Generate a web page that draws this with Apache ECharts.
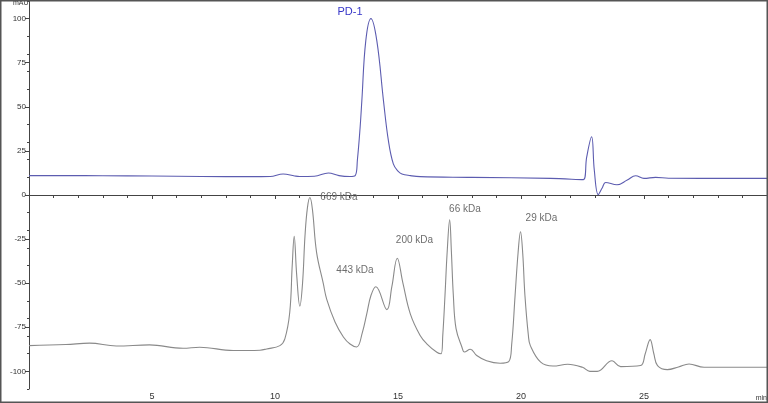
<!DOCTYPE html>
<html>
<head>
<meta charset="utf-8">
<script src="https://cdn.jsdelivr.net/npm/echarts@6/dist/echarts.min.js"></script>
<style>
html,body{margin:0;padding:0;background:#fff;}
#c{width:768px;height:403px;}
</style>
</head>
<body>
<div id="c"></div>
<script>
// PD-1 trace (blue): retention time (min) and absorbance (mAU)
const pd1Time  = [0, 1.5, 3, 5, 7, 9, 9.8, 10.33, 10.8, 11.0, 11.6, 12.17, 12.6, 13.05, 13.26, 13.35, 13.46, 13.53, 13.69, 13.9, 14.14, 14.41, 14.61, 14.81, 15.0, 15.16, 15.5, 15.9, 18, 21.2, 22.53, 22.67, 22.87, 22.98, 23.14, 23.3, 23.44, 23.9, 24.32, 24.66, 25.0, 25.47, 26, 30];
const pd1Value = [11.0, 11.0, 10.9, 10.8, 10.5, 10.4, 10.5, 11.9, 10.8, 10.5, 10.6, 12.5, 11.0, 10.5, 11.0, 20, 38.3, 53.4, 87.4, 100, 87.4, 53.4, 30.8, 17.6, 13.5, 11.9, 11.0, 10.4, 10.0, 9.4, 8.7, 21.5, 33, 14, 0.2, 4, 7.1, 5.8, 8.5, 10.9, 9.4, 10.0, 9.5, 9.4];

// Molecular weight standard trace (gray)
const stdTime  = [0, 1.5, 2.46, 3.55, 4.9, 6.26, 6.94, 8.3, 9.39, 9.66, 10.2, 10.4, 10.6, 10.7, 10.78, 10.88, 11.01, 11.12, 11.22, 11.32, 11.42, 11.52, 11.69, 11.96, 12.1, 12.44, 12.78, 13.05, 13.32, 13.55, 13.73, 13.9, 14.1, 14.55, 14.75, 14.97, 15.2, 15.5, 15.9, 16.17, 16.58, 16.75, 16.82, 16.91, 17.0, 17.1, 17.17, 17.25, 17.36, 17.6, 17.7, 17.94, 18.2, 18.6, 19.15, 19.5, 19.62, 19.76, 19.88, 19.98, 20.07, 20.16, 20.3, 20.38, 20.8, 21.3, 21.9, 22.5, 22.8, 23.1, 23.7, 24.05, 24.86, 25.05, 25.25, 25.4, 25.55, 25.95, 26.4, 26.83, 27.44, 30];
const stdValue = [-85.4, -84.8, -84.0, -85.6, -85.0, -86.9, -86.3, -88.2, -88.0, -87.3, -85.4, -81.6, -66.5, -40, -23.4, -45, -63, -50, -23, -7, -1.4, -8, -32.5, -50, -59, -72, -80.5, -84.5, -86.2, -78, -67.4, -57, -52, -65, -52, -35.9, -50, -67.4, -79.7, -84.4, -89.2, -90, -79.6, -57, -32, -14, -32, -57, -75.8, -86.3, -89, -87.5, -91, -94, -95.4, -94.5, -85, -56.9, -33, -20.8, -33, -57, -79.6, -85.4, -94.8, -97, -96, -97.7, -100, -100, -94, -97.3, -96.7, -90, -82, -90, -96.7, -99, -97.5, -95.8, -97.7, -97.7];

// Peak annotations
const pd1Label = {name: 'PD-1', t: 13.05, v: 103.6};
const stdLabels = ['669 kDa', '443 kDa', '200 kDa', '66 kDa', '29 kDa'];
const stdLabelT = [12.6, 13.25, 15.67, 17.72, 20.83];
const stdLabelV = [-1.3, -42.7, -25.7, -8.1, -13.2];

// Axis ticks
const xLabelValues = [5, 10, 15, 20, 25];
const yLabelValues = [-100, -75, -50, -25, 0, 25, 50, 75, 100];
const yMinorValues = [-110, -100, -90, -80, -70, -60, -50, -40, -30, -20, -10, 0, 10, 20, 30, 40, 50, 60, 70, 80, 90, 100, 110];

const pd1Data = pd1Time.map((t, i) => [t, pd1Value[i]]);
const stdData = stdTime.map((t, i) => [t, stdValue[i]]);

const FONT = 'Liberation Sans, Arial, sans-serif';
const chart = echarts.init(document.getElementById('c'), null, {renderer: 'canvas'});

chart.setOption({
  animation: false,
  backgroundColor: '#ffffff',
  grid: {left: 29, right: 1, top: 1, bottom: 14, containLabel: false},
  xAxis: {
    type: 'value', min: 0, max: 30, interval: 5,
    axisLine: {show: true, lineStyle: {color: '#444', width: 1}},
    axisTick: {show: true, length: 4, lineStyle: {color: '#444'}},
    minorTick: {show: true, splitNumber: 5, length: 3, lineStyle: {color: '#444'}},
    axisLabel: {customValues: xLabelValues, fontSize: 9, color: '#333', margin: 3, fontFamily: FONT},
    splitLine: {show: false}
  },
  yAxis: [{
    type: 'value', min: -110, max: 110,
    axisLine: {show: true, lineStyle: {color: '#444', width: 1}},
    axisTick: {show: true, customValues: yLabelValues, length: 4, lineStyle: {color: '#444'}},
    axisLabel: {customValues: yLabelValues, fontSize: 8, color: '#333', margin: 3, fontFamily: FONT},
    splitLine: {show: false}
  }, {
    type: 'value', min: -110, max: 110, position: 'left', offset: 0,
    axisLine: {show: false},
    axisTick: {show: true, customValues: yMinorValues, length: 2, lineStyle: {color: '#444'}},
    axisLabel: {show: false},
    splitLine: {show: false}
  }],
  series: [{
    name: 'PD-1', type: 'line', data: pd1Data, showSymbol: false, smooth: 0.4,
    lineStyle: {color: '#5c5cb0', width: 1.1}, z: 3,
    markPoint: {
      symbol: 'circle', symbolSize: 0, silent: true,
      label: {show: true, position: 'inside', color: '#3535c8', fontSize: 11, fontFamily: FONT, formatter: p => p.name},
      data: [{name: pd1Label.name, coord: [pd1Label.t, pd1Label.v]}]
    }
  }, {
    name: 'Standard', type: 'line', data: stdData, showSymbol: false, smooth: 0.4,
    lineStyle: {color: '#8a8a8a', width: 1.1}, z: 2,
    markPoint: {
      symbol: 'circle', symbolSize: 0, silent: true,
      label: {show: true, position: 'inside', color: '#6e6e6e', fontSize: 10, fontFamily: FONT, formatter: p => p.name},
      data: stdLabels.map((n, i) => ({name: n, coord: [stdLabelT[i], stdLabelV[i]]}))
    }
  }],
  graphic: [
    {type: 'text', left: 13, top: 0, style: {text: 'mAU', fontSize: 7, fill: '#333', fontFamily: FONT}},
    {type: 'text', right: 1, bottom: 1, style: {text: 'min', fontSize: 7, fill: '#333', fontFamily: FONT}},
    {type: 'rect', shape: {x: 0.75, y: 0.75, width: 766.5, height: 401.5}, style: {fill: 'none', stroke: '#555', lineWidth: 1.5}, silent: true, z: 100}
  ]
});
</script>
</body>
</html>
